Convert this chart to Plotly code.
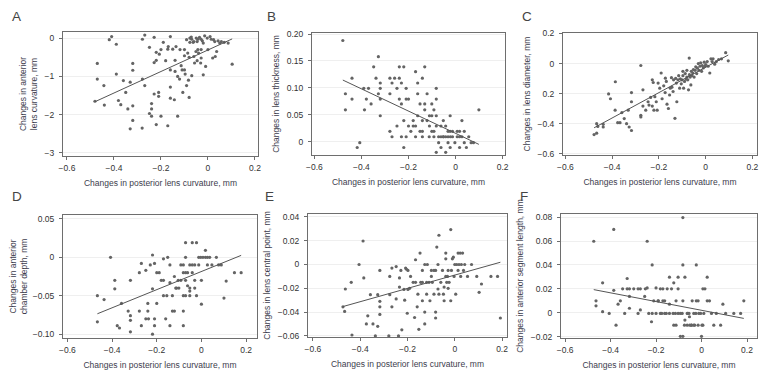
import plotly.graph_objects as go
import numpy as np

# ---------------- data ----------------
a_x = [-0.481,-0.471,-0.471,-0.443,-0.441,-0.42,-0.41,-0.39,-0.39,-0.381,-0.371,-0.36,-0.35,-0.341,-0.331,-0.331,-0.32,-0.32,-0.32,-0.32,
       -0.28,-0.279,-0.269,-0.279,-0.269,-0.249,-0.249,-0.24,-0.24,-0.24,-0.229,-0.229,-0.229,-0.22,-0.22,-0.22,-0.21,-0.21,-0.207,-0.2,
       -0.2,-0.19,-0.18,-0.171,-0.171,-0.169,-0.16,-0.16,-0.16,-0.16,-0.15,-0.143,-0.14,-0.14,-0.136,-0.129,-0.129,-0.121,-0.119,-0.114,
       -0.11,-0.107,-0.1,-0.1,-0.1,-0.097,-0.091,-0.091,-0.086,-0.083,-0.08,-0.08,-0.077,-0.077,-0.071,-0.069,-0.069,-0.063,-0.06,-0.057,
       -0.051,-0.05,-0.046,-0.046,-0.043,-0.04,-0.036,-0.031,-0.029,-0.029,-0.024,-0.02,-0.02,-0.014,-0.01,-0.003,0.0,0.009,0.014,0.02,
       0.024,0.029,0.031,0.037,0.043,0.05,0.057,0.069,0.086,0.103,-0.029,-0.043,-0.06]
a_y = [-1.65,-0.66,-1.07,-1.24,-1.75,-0.04,0.04,-0.16,-0.94,-1.63,-1.74,-1.11,-1.42,-1.85,-1.15,-2.37,-0.66,-0.84,-1.77,-2.15,
       -2.35,-0.03,0.08,-1.07,-1.24,-0.24,-1.97,-1.71,-1.85,-2.04,0.02,-0.64,-1.46,-0.58,-0.37,-2.26,-1.42,-1.52,-0.42,-0.30,
       -2.04,-0.11,-0.59,-0.29,-2.29,-0.22,0.04,-0.83,-1.28,-1.57,-0.29,-1.61,-0.58,-0.87,-0.22,-2.04,-1.00,-1.07,-0.30,-0.72,
       -0.83,-1.42,-0.30,-0.46,-0.83,-0.94,-1.24,-0.04,-0.39,-1.10,-1.55,-0.50,0.0,-0.11,0.03,-0.03,-0.98,-0.11,-0.48,-0.65,
       -0.35,0.0,-0.59,-0.09,-0.30,-0.39,0.02,-0.65,-0.30,-0.52,-0.07,-0.13,-0.96,0.06,-0.74,0.0,-0.30,0.04,-0.03,-0.52,
       -0.04,-0.09,-0.48,-0.35,-0.07,-0.13,-0.09,-0.11,-0.13,-0.68,-0.03,-0.03,-0.09]

b_x = [-0.479,-0.468,-0.468,-0.44,-0.44,-0.418,-0.407,-0.39,-0.387,-0.379,-0.37,-0.359,-0.348,-0.338,-0.328,-0.328,-0.32,-0.32,-0.32,-0.32,
       -0.279,-0.279,-0.279,-0.27,-0.27,-0.259,-0.249,-0.249,-0.239,-0.239,-0.239,-0.23,-0.23,-0.23,-0.22,-0.22,-0.22,-0.21,-0.21,-0.21,
       -0.2,-0.2,-0.19,-0.18,-0.18,-0.17,-0.17,-0.17,-0.161,-0.161,-0.161,-0.151,-0.151,-0.141,-0.141,-0.141,-0.141,-0.131,-0.131,-0.131,
       -0.121,-0.121,-0.111,-0.111,-0.101,-0.101,-0.092,-0.092,-0.082,-0.082,-0.082,-0.082,-0.082,-0.072,-0.072,-0.062,-0.062,-0.052,-0.052,-0.042,
       -0.042,-0.042,-0.032,-0.032,-0.032,-0.023,-0.023,-0.023,-0.013,-0.013,-0.003,0.007,0.007,0.017,0.017,0.027,0.027,0.037,0.037,0.046,
       0.056,0.066,0.076,0.099,-0.101,-0.092,-0.062,-0.112,-0.052,-0.022,0.017]
b_y = [0.188,0.089,0.059,0.118,0.079,-0.011,-0.002,0.099,0.059,0.079,0.099,0.070,0.139,0.118,0.158,0.089,0.109,0.099,0.079,0.048,
       0.118,0.089,0.019,0.109,0.009,0.118,0.099,0.029,0.139,0.118,0.079,0.109,0.070,0.009,0.139,0.039,-0.011,0.099,0.079,0.009,
       0.079,0.029,0.019,0.039,0.029,0.029,0.130,0.009,0.109,0.089,0.048,0.070,0.019,0.118,0.039,0.019,0.009,0.139,0.070,0.059,
       0.089,0.039,0.048,0.029,0.070,0.048,0.059,0.009,0.099,0.079,0.048,0.029,-0.020,0.009,-0.002,0.029,0.009,0.039,0.009,0.029,
       0.009,-0.020,0.019,0.009,-0.002,0.048,0.019,-0.011,0.019,0.009,-0.002,0.009,0.019,0.019,-0.011,0.039,0.009,0.019,-0.002,-0.011,
       0.009,-0.002,-0.002,0.059,0.019,0.019,-0.011,0.009,0.009,0.009,0.009]

c_x = [-0.477,-0.466,-0.466,-0.461,-0.438,-0.438,-0.415,-0.407,-0.387,-0.386,-0.376,-0.366,-0.358,-0.348,-0.338,-0.331,-0.327,-0.317,-0.317,-0.317,
       -0.277,-0.277,-0.277,-0.268,-0.268,-0.256,-0.246,-0.242,-0.235,-0.228,-0.228,-0.224,-0.221,-0.217,-0.211,-0.207,-0.203,-0.196,-0.19,-0.186,
       -0.179,-0.173,-0.172,-0.168,-0.165,-0.159,-0.154,-0.151,-0.146,-0.144,-0.139,-0.137,-0.131,-0.128,-0.125,-0.123,-0.118,-0.115,-0.111,-0.108,
       -0.104,-0.101,-0.097,-0.094,-0.09,-0.087,-0.083,-0.08,-0.076,-0.073,-0.07,-0.069,-0.066,-0.063,-0.061,-0.058,-0.055,-0.052,-0.049,-0.045,
       -0.042,-0.038,-0.035,-0.031,-0.028,-0.024,-0.021,-0.017,-0.014,-0.01,-0.006,-0.003,0.001,0.007,0.011,0.018,0.023,0.028,0.032,0.039,
       0.046,0.056,0.068,0.086,0.097,-0.08,-0.097]
c_y = [-0.472,-0.463,-0.40,-0.418,-0.422,-0.404,-0.202,-0.234,-0.31,-0.121,-0.393,-0.393,-0.326,-0.366,-0.40,-0.31,-0.422,-0.193,-0.254,-0.445,
       -0.013,-0.344,-0.355,-0.175,-0.283,-0.31,-0.254,-0.276,-0.225,-0.108,-0.283,-0.126,-0.31,-0.22,-0.254,-0.31,-0.13,-0.164,-0.063,-0.234,
       -0.148,-0.193,-0.097,-0.119,-0.27,-0.299,-0.209,-0.164,-0.094,-0.157,-0.186,-0.108,-0.364,-0.099,-0.13,-0.254,-0.108,-0.081,-0.164,-0.101,
       -0.135,-0.108,-0.081,-0.164,-0.119,-0.067,-0.103,-0.09,-0.108,-0.175,0.036,-0.074,-0.09,-0.142,-0.052,-0.081,-0.063,-0.04,-0.09,-0.045,
       -0.022,-0.067,-0.031,0.0,-0.045,-0.018,0.004,-0.052,-0.013,-0.029,0.009,-0.018,-0.007,0.013,-0.018,-0.063,0.031,0.013,0.031,-0.004,
       0.013,0.027,0.031,0.072,0.018,-0.045,-0.052]

d_x = [-0.466,-0.466,-0.436,-0.407,-0.388,-0.388,-0.377,-0.367,-0.358,-0.328,-0.318,-0.318,-0.318,-0.318,-0.278,-0.278,-0.269,-0.269,-0.249,-0.249,
       -0.240,-0.240,-0.237,-0.229,-0.219,-0.219,-0.219,-0.210,-0.210,-0.210,-0.200,-0.200,-0.189,-0.180,-0.170,-0.170,-0.170,-0.160,-0.155,-0.151,
       -0.141,-0.141,-0.141,-0.130,-0.130,-0.121,-0.121,-0.115,-0.111,-0.104,-0.101,-0.092,-0.092,-0.081,-0.081,-0.081,-0.081,-0.081,-0.071,-0.071,
       -0.071,-0.071,-0.071,-0.062,-0.062,-0.052,-0.052,-0.052,-0.052,-0.041,-0.041,-0.041,-0.030,-0.030,-0.030,-0.022,-0.022,-0.012,-0.012,-0.003,
       0.0,0.0,0.007,0.018,0.018,0.027,0.027,0.037,0.047,0.067,0.077,0.089,0.101,0.111,0.148,0.178]
d_y = [-0.050,-0.084,-0.055,0.0,-0.030,-0.041,-0.089,-0.092,-0.060,-0.070,-0.030,-0.076,-0.082,-0.097,-0.020,-0.070,-0.008,-0.089,-0.017,-0.080,
       -0.060,-0.070,-0.080,-0.010,0.003,-0.041,-0.100,-0.008,-0.080,-0.089,-0.020,-0.060,-0.020,-0.030,-0.002,-0.030,-0.050,-0.080,-0.050,0.0,
       -0.010,-0.033,-0.089,-0.050,-0.070,-0.025,-0.070,-0.040,-0.040,-0.030,-0.040,-0.010,-0.030,-0.010,-0.020,-0.050,-0.070,-0.089,0.019,0.0,
       -0.020,-0.030,-0.050,-0.020,-0.037,-0.010,-0.040,-0.044,-0.050,0.019,-0.010,-0.020,-0.010,-0.030,-0.040,0.019,-0.050,0.0,-0.010,0.0,
       -0.030,-0.061,0.0,0.0,0.009,0.0,-0.010,0.0,-0.010,0.0,-0.010,-0.010,-0.053,-0.031,-0.020,-0.020]

e_x = [-0.473,-0.466,-0.463,-0.438,-0.435,-0.405,-0.388,-0.385,-0.368,-0.374,-0.357,-0.346,-0.336,-0.326,-0.326,-0.317,-0.317,-0.317,-0.317,-0.279,
       -0.275,-0.275,-0.266,-0.266,-0.248,-0.248,-0.238,-0.234,-0.234,-0.228,-0.224,-0.215,-0.212,-0.208,-0.204,-0.201,-0.198,-0.198,-0.191,-0.187,
       -0.176,-0.170,-0.166,-0.166,-0.159,-0.156,-0.152,-0.147,-0.144,-0.137,-0.137,-0.137,-0.127,-0.127,-0.127,-0.119,-0.119,-0.116,-0.109,-0.105,
       -0.099,-0.099,-0.095,-0.088,-0.088,-0.081,-0.081,-0.081,-0.076,-0.071,-0.071,-0.067,-0.067,-0.059,-0.052,-0.048,-0.045,-0.045,-0.038,-0.038,
       -0.038,-0.034,-0.031,-0.028,-0.028,-0.024,-0.017,-0.017,-0.014,-0.010,-0.006,-0.003,0.0,0.004,0.008,0.014,0.014,0.018,0.023,0.025,
       0.028,0.033,0.037,0.042,0.054,0.071,0.093,0.103,0.113,0.153,0.181,0.193]
e_y = [-0.0356,-0.0395,-0.0206,-0.015,-0.0593,0.0,0.0198,-0.0113,-0.0432,-0.050,-0.0254,-0.050,-0.060,-0.0254,-0.052,-0.005,-0.031,-0.0356,-0.042,-0.060,
       -0.010,-0.0254,-0.003,-0.0356,-0.0017,-0.029,-0.060,-0.0113,-0.019,-0.005,-0.055,-0.021,-0.030,-0.003,-0.004,-0.041,-0.005,-0.021,-0.020,-0.010,
       -0.015,-0.0446,0.004,-0.015,-0.0356,-0.025,-0.0545,0.0096,-0.015,-0.005,-0.015,-0.0305,0.0,-0.040,-0.050,-0.015,-0.025,0.0,-0.015,-0.0305,
       -0.005,-0.010,-0.015,-0.005,-0.025,-0.005,-0.040,-0.045,0.0147,0.0,-0.0206,0.0246,-0.025,-0.015,-0.005,-0.025,-0.019,-0.0305,0.0048,-0.010,
       0.0096,-0.015,-0.010,-0.005,-0.020,-0.015,0.0294,-0.0305,-0.005,0.0048,0.0062,-0.010,0.0,-0.025,0.0,0.0096,-0.005,0.0,0.0096,-0.010,
       0.0,0.0096,-0.005,0.0,-0.010,0.0,-0.010,-0.0234,-0.0164,-0.010,-0.010,-0.045]

f_x = [-0.474,-0.464,-0.464,-0.435,-0.435,-0.406,-0.386,-0.386,-0.376,-0.367,-0.357,-0.347,-0.338,-0.327,-0.327,-0.317,-0.317,-0.317,-0.298,-0.279,
       -0.279,-0.269,-0.269,-0.250,-0.247,-0.239,-0.239,-0.232,-0.220,-0.217,-0.217,-0.210,-0.200,-0.200,-0.191,-0.181,-0.181,-0.170,-0.170,-0.162,
       -0.162,-0.151,-0.141,-0.141,-0.141,-0.132,-0.122,-0.122,-0.112,-0.112,-0.103,-0.103,-0.103,-0.093,-0.093,-0.082,-0.082,-0.082,-0.082,-0.073,
       -0.073,-0.063,-0.063,-0.053,-0.044,-0.041,-0.034,-0.034,-0.023,-0.023,-0.015,-0.015,-0.004,0.0,0.006,0.006,0.015,0.025,0.025,0.035,
       0.044,0.054,0.065,0.084,0.094,0.106,0.142,0.172,0.186,-0.190,-0.175,-0.155,-0.125,-0.115,-0.085,-0.075,-0.055,-0.045,-0.025,-0.012,
       -0.052,-0.060,-0.030,0.002,0.010]
f_y = [0.0598,0.0099,0.0057,0.025,0.0008,-0.0006,0.0697,0.0187,-0.0105,0.0071,0.0099,0.020,-0.0006,0.0286,0.020,0.020,0.0037,0.0136,0.020,0.020,
       -0.0006,0.020,0.0023,0.0136,0.020,0.0598,0.0207,-0.0006,-0.0076,0.040,-0.0006,0.0099,0.0207,-0.0006,0.0099,0.020,-0.0006,0.020,0.0099,0.0099,
       -0.0006,0.020,0.0297,0.0071,-0.0006,0.020,0.025,-0.0105,0.0099,-0.0105,0.0297,0.020,-0.0006,-0.0006,-0.0198,0.040,0.0796,0.0099,-0.0198,0.0297,
       -0.0062,-0.0006,-0.0105,-0.0034,-0.0105,0.0099,-0.0006,-0.0105,0.040,0.0099,-0.0105,0.0099,-0.0006,-0.0198,0.020,-0.0105,0.020,0.0297,0.0099,0.0099,
       -0.0006,-0.0105,-0.0006,-0.0105,0.0071,-0.0006,-0.0006,-0.0006,0.0099,0.0099,-0.0006,-0.0006,-0.0006,-0.0006,-0.0006,-0.0105,-0.0006,-0.0105,-0.0006,-0.0006,
       -0.0105,-0.0006,-0.0105,-0.0105,-0.0006]

# regression lines: [slope, intercept]
fit_a = [2.81, -0.31]
fit_b = [-0.207, 0.0153]
fit_c = [0.843, -0.025]
fit_d = [0.118, -0.0185]
fit_e = [0.056, -0.0089]
fit_f = [-0.0365, 0.0020]

x_ticks = [-0.6, -0.4, -0.2, 0, 0.2]
x_ticktext = ["−0.6", "−0.4", "−0.2", "0", "0.2"]
a_ticks = [0, -1, -2, -3];              a_ticktext = ["0", "−1", "−2", "−3"]
b_ticks = [0, 0.05, 0.10, 0.15, 0.20];  b_ticktext = ["0", "0.05", "0.10", "0.15", "0.20"]
c_ticks = [0.2, 0, -0.2, -0.4, -0.6];   c_ticktext = ["0.2", "0", "0.2", "−0.4", "−0.6"]
d_ticks = [0.05, 0, -0.05, -0.10];      d_ticktext = ["0.05", "0", "−0.05", "−0.10"]
e_ticks = [0.04, 0.02, 0, -0.02, -0.04, -0.06]; e_ticktext = ["0.04", "0.02", "0", "−0.02", "−0.04", "−0.06"]
f_ticks = [0.08, 0.06, 0.04, 0.02, 0, -0.02];   f_ticktext = ["0.08", "0.06", "0.04", "0.02", "0", "−0.02"]

panel_letters = ["A", "B", "C", "D", "E", "F"]
x_title = "Changes in posterior lens curvature, mm"
y_titles = ["Changes in anterior<br>lens curvature, mm",
            "Changes in lens thickness, mm",
            "Changes in lens diameter, mm",
            "Changes in anterior<br>chamber depth, mm",
            "Changes in lens central point, mm",
            "Changes in anterior segment length, mm"]

# ---------------- layout geometry (page pixels; page body has an 8px margin) ----------------
PAGE_W, PAGE_H, OFF = 769, 382, 8
W, H = PAGE_W - 2 * OFF, PAGE_H - 2 * OFF
boxes = [(63, 258, 32, 156), (312, 505, 33, 155), (563, 757, 33, 155),
         (63, 257, 215, 338), (308, 507, 214, 337), (561, 757, 214, 338)]
x_ranges = [[-0.617, 0.213], [-0.61, 0.21], [-0.61, 0.22],
            [-0.62, 0.249], [-0.621, 0.221], [-0.618, 0.244]]
y_ranges = [[-3.08, 0.16], [-0.025, 0.202], [-0.608, 0.203],
            [-0.105, 0.055], [-0.061, 0.0425], [-0.0212, 0.0826]]
# top-left corner of each panel letter's text box
letter_pos = [(11, 8), (266, 8), (521, 8), (11, 188), (264, 188), (519, 188)]

xs = [a_x, b_x, c_x, d_x, e_x, f_x]
ys = [a_y, b_y, c_y, d_y, e_y, f_y]
fits = [fit_a, fit_b, fit_c, fit_d, fit_e, fit_f]
yt = [(a_ticks, a_ticktext), (b_ticks, b_ticktext), (c_ticks, c_ticktext),
      (d_ticks, d_ticktext), (e_ticks, e_ticktext), (f_ticks, f_ticktext)]


def px_x(p):
    return (p - OFF) / W


def px_y(p):
    return 1 - (p - OFF) / H


FONT = "Liberation Sans, Arial, sans-serif"
TXT = "#3d3d4d"
fig = go.Figure()
layout = dict(width=W, height=H, margin=dict(l=0, r=0, t=0, b=0, autoexpand=False),
              paper_bgcolor="white", plot_bgcolor="white", showlegend=False,
              font=dict(family=FONT, size=8, color=TXT))
annotations = []
for i in range(6):
    k = "" if i == 0 else str(i + 1)
    fig.add_trace(go.Scatter(x=xs[i], y=ys[i], mode="markers",
                             marker=dict(size=3.2, color="#646464"),
                             xaxis="x" + k, yaxis="y" + k, hoverinfo="skip"))
    x0, x1 = min(xs[i]), max(xs[i])
    lx = np.array([x0, x1])
    ly = fits[i][0] * lx + fits[i][1]
    fig.add_trace(go.Scatter(x=lx, y=ly, mode="lines",
                             line=dict(color="#555555", width=1),
                             xaxis="x" + k, yaxis="y" + k, hoverinfo="skip"))
    l, r, t, b = boxes[i]
    common = dict(showline=True, mirror=True, linecolor="#6e6e6e", linewidth=1,
                  ticks="outside", ticklen=3, tickcolor="#6e6e6e", automargin=False,
                  tickfont=dict(size=8.5, color="#333333"), zeroline=False)
    layout["xaxis" + k] = dict(domain=[px_x(l), px_x(r)], range=x_ranges[i], anchor="y" + k,
                               tickvals=x_ticks, ticktext=x_ticktext, showgrid=False,
                               ticklabelstandoff=1,
                               title=dict(text=x_title, font=dict(size=8.5, color=TXT), standoff=7),
                               **common)
    layout["yaxis" + k] = dict(domain=[px_y(b), px_y(t)], range=y_ranges[i], anchor="x" + k,
                               tickvals=yt[i][0], ticktext=yt[i][1], showgrid=True,
                               gridcolor="#efefef", gridwidth=1, ticklabelstandoff=3,
                               title=dict(text=y_titles[i], font=dict(size=8.5, color=TXT), standoff=5),
                               **common)
    annotations.append(dict(text=panel_letters[i], x=px_x(letter_pos[i][0]), y=px_y(letter_pos[i][1]),
                            xref="paper", yref="paper", xanchor="left", yanchor="top",
                            showarrow=False, borderpad=0,
                            font=dict(size=13.5, color="#444444", family=FONT)))
layout["annotations"] = annotations
fig.update_layout(**layout)
fig.write_html("out.html")
